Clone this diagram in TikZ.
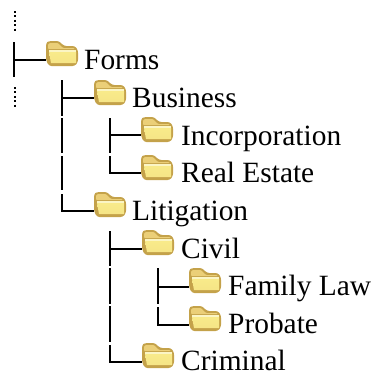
\documentclass[tikz,border=0pt]{standalone}
\usepackage{fontspec}
\setmainfont{Liberation Serif}
\definecolor{fedge}{HTML}{C4A24A}
\definecolor{fback}{HTML}{EBCF78}
\definecolor{ffront}{HTML}{F8EA8A}
\tikzset{
  treeline/.style={line width=2.6pt,black},
  dotline/.style={line width=2.6pt,black,dash pattern=on 2pt off 2.4pt},
  lbl/.style={anchor=base west,inner sep=0pt,font=\fontsize{29.4pt}{30pt}\selectfont},
  folder/.pic={
    \fill[fedge,rounded corners=2.5pt] (0,2) -- (0,19) -- (3,25) -- (29,25) -- (32,21) -- (32,9) -- (29,5) -- (18,5) -- (13,0) -- (3,0) -- cycle;
    \fill[fback,rounded corners=1pt] (2,3) -- (2,8) -- (29,8) -- (28,7) -- (17,7) -- (12,2) -- (4,2) -- cycle;
    \fill[white!50!ffront] (3,9) rectangle (30,11);
    \shade[top color=ffront,bottom color=ffront!80!fback] (3,11) -- (30,11) -- (30,22) -- (5,22) -- cycle;
  }
}
\begin{document}
\begin{tikzpicture}[x=1pt,y=-1pt]
\useasboundingbox (0,0) rectangle (371,373);
\coordinate (t1) at (15,11); \coordinate (t2) at (15,31);
\draw[dotline] (t1) -- (t2);
\coordinate (b1) at (15,87); \coordinate (b2) at (15,107);
\draw[dotline] (b1) -- (b2);
\pic at (46,41) {folder};
\pic at (94,80) {folder};
\pic at (141,117) {folder};
\pic at (141,155) {folder};
\pic at (94,192) {folder};
\pic at (142,230) {folder};
\pic at (189,268) {folder};
\pic at (189,306) {folder};
\pic at (142,343) {folder};
\node[lbl] (forms) at (84,69) {Forms};
\node[lbl] (business) at (132,107) {Business};
\node[lbl] (inc) at (181,145) {Incorporation};
\node[lbl] (real) at (181,182) {Real Estate};
\node[lbl] (lit) at (132,220) {Litigation};
\node[lbl] (civil) at (181,258) {Civil};
\node[lbl] (fam) at (228,295) {Family Law};
\node[lbl] (prob) at (228,333) {Probate};
\node[lbl] (crim) at (181,370) {Criminal};
\coordinate (f) at (46,60);
\coordinate (bu) at (94,98);
\coordinate (in) at (141,135);
\coordinate (re) at (141,173);
\coordinate (li) at (94,211);
\coordinate (ci) at (142,249);
\coordinate (fa) at (189,287);
\coordinate (pr) at (189,325);
\coordinate (cr) at (142,362);
\draw[treeline] (14,42) -- (14,77);
\draw[treeline] (14,60) -- (f);
\draw[treeline] (62,80) -- (62,116);
\draw[treeline] (62,98) -- (bu);
\draw[treeline] (62,118) -- (62,153);
\draw[treeline] (62,156) -- (62,190);
\draw[treeline] (62,194) |- (li);
\draw[treeline] (110,118) -- (110,153);
\draw[treeline] (110,135) -- (in);
\draw[treeline] (110,156) |- (re);
\draw[treeline] (110,231) -- (110,266);
\draw[treeline] (110,249) -- (ci);
\draw[treeline] (110,268) -- (110,304);
\draw[treeline] (110,306) -- (110,342);
\draw[treeline] (110,345) |- (cr);
\draw[treeline] (158,268) -- (158,304);
\draw[treeline] (158,287) -- (fa);
\draw[treeline] (158,307) |- (pr);
\end{tikzpicture}
\end{document}
